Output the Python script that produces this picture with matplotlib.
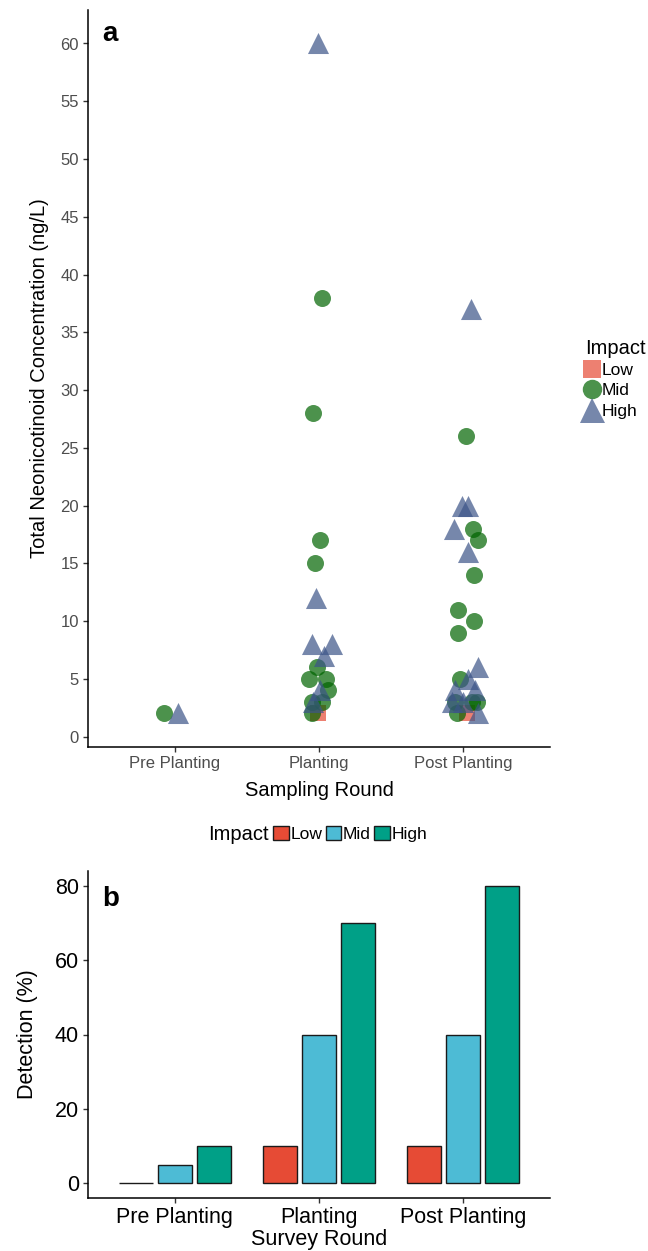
import matplotlib
matplotlib.use("Agg")
import matplotlib.pyplot as plt
from matplotlib.lines import Line2D
from matplotlib.patches import Patch
import numpy as np

plt.rcParams['font.family'] = ['Liberation Sans', 'DejaVu Sans']

# categories
rounds = ["Pre Planting", "Planting", "Post Planting"]
impacts = ["Low", "Mid", "High"]

# panel a: concentrations per impact group (round index, value, horizontal jitter)
low_round = [1, 2]
low_conc = [2, 2]
low_jit = [-0.005, 0.024]

mid_round = [0, 1, 1, 1, 1, 1, 1, 1, 1, 1, 1, 1,
             2, 2, 2, 2, 2, 2, 2, 2, 2, 2, 2, 2]
mid_conc = [2, 38, 28, 17, 15, 6, 5, 5, 4, 3, 3, 2,
            26, 18, 17, 14, 11, 10, 9, 5, 3, 3, 3, 2]
mid_jit = [-0.076, 0.019, -0.044, 0.009, -0.028, -0.016, -0.069, 0.047, 0.065, -0.051, 0.019, -0.051,
           0.017, 0.069, 0.100, 0.076, -0.035, 0.076, -0.035, -0.023, -0.058, 0.058, 0.093, -0.046]

high_round = [0, 1, 1, 1, 1, 1, 1, 1,
              2, 2, 2, 2, 2, 2, 2, 2, 2, 2, 2, 2]
high_conc = [2, 60, 12, 8, 8, 7, 4, 3,
             37, 20, 20, 18, 16, 6, 5, 4, 4, 3, 2, 3]
high_jit = [0.020, -0.005, -0.021, -0.051, 0.088, 0.037, 0.007, -0.040,
            0.050, -0.011, 0.035, -0.063, 0.031, 0.104, 0.035, 0.081, -0.058, 0.0, 0.104, -0.076]

# panel b: detection (%)
det_low = [0, 10, 10]
det_mid = [5, 40, 40]
det_high = [10, 70, 80]

pt_cols = {"Low": "#E64B35", "Mid": "#006400", "High": "#3C5488"}
bar_cols = {"Low": "#E64B35", "Mid": "#4DBBD5", "High": "#00A087"}

W, H = 648, 1251
fig = plt.figure(figsize=(W / 100, H / 100), dpi=100)

def style_axes(ax, labcol, labsize):
    for s in ["top", "right"]:
        ax.spines[s].set_visible(False)
    for s in ["left", "bottom"]:
        ax.spines[s].set_linewidth(1.1)
        ax.spines[s].set_color("black")
    ax.tick_params(axis="both", length=3.5, width=1.0, color="#333333",
                   labelcolor=labcol, labelsize=labsize, pad=3)

# ---- panel a ----
ax1 = fig.add_axes([88 / W, 1 - 747 / H, 462 / W, 737 / H])
ax1.scatter(np.array(low_round) + np.array(low_jit), low_conc, marker="s", s=130,
            color=pt_cols["Low"], alpha=0.7, linewidths=0)
ax1.scatter(np.array(mid_round) + np.array(mid_jit), mid_conc, marker="o", s=150,
            color=pt_cols["Mid"], alpha=0.7, linewidths=0)
ax1.scatter(np.array(high_round) + np.array(high_jit), high_conc, marker="^", s=230,
            color=pt_cols["High"], alpha=0.7, linewidths=0)
ax1.set_xlim(-0.6, 2.6)
ax1.set_ylim(-0.9, 62.9)
ax1.set_xticks(range(3))
ax1.set_xticklabels(rounds)
ax1.set_yticks(range(0, 61, 5))
style_axes(ax1, "#4D4D4D", 12)
ax1.set_xlabel("Sampling Round", fontsize=14.5, labelpad=7)
ax1.set_ylabel("Total Neonicotinoid Concentration (ng/L)", fontsize=14.5, labelpad=8)
ax1.text(0.03, 0.985, "a", transform=ax1.transAxes, fontsize=20, fontweight="bold",
         va="top", ha="left")

handles_a = [Line2D([], [], ls="none", marker="s", ms=13, color=pt_cols["Low"], alpha=0.7, mew=0),
             Line2D([], [], ls="none", marker="o", ms=14, color=pt_cols["Mid"], alpha=0.7, mew=0),
             Line2D([], [], ls="none", marker="^", ms=18, color=pt_cols["High"], alpha=0.7, mew=0)]
fig.legend(handles_a, impacts, title="Impact", loc="upper left",
           bbox_to_anchor=(576 / W, 1 - 330 / H), frameon=False, fontsize=12.5,
           title_fontsize=14.5, handlelength=0.9, handletextpad=0.05,
           labelspacing=0.3, borderpad=0, alignment="left")

# ---- panel b ----
ax2 = fig.add_axes([88 / W, 1 - 1198 / H, 462 / W, 327 / H])
x = np.arange(len(rounds))
bw = 0.235
for off, key, vals in [(-0.27, "Low", det_low), (0.0, "Mid", det_mid), (0.27, "High", det_high)]:
    ax2.bar(x + off, vals, width=bw, color=bar_cols[key], edgecolor="#1a1a1a", linewidth=1.0)
ax2.set_xlim(-0.6, 2.6)
ax2.set_ylim(-4, 84)
ax2.set_xticks(x)
ax2.set_xticklabels(rounds)
ax2.set_yticks([0, 20, 40, 60, 80])
style_axes(ax2, "black", 15.5)
ax2.set_xlabel("Survey Round", fontsize=15.5, labelpad=1)
ax2.set_ylabel("Detection (%)", fontsize=15.5, labelpad=12)
ax2.text(0.03, 0.955, "b", transform=ax2.transAxes, fontsize=20, fontweight="bold",
         va="top", ha="left")

# horizontal legend: title on the left, keys to its right
fig.text(208 / W, 1 - 834 / H, "Impact", fontsize=14.5, ha="left", va="center")
handles_b = [Patch(facecolor=bar_cols[k], edgecolor="#1a1a1a", linewidth=1.0) for k in impacts]
fig.legend(handles_b, impacts, loc="center left",
           bbox_to_anchor=(273 / W, 1 - 834 / H), frameon=False, ncol=3, fontsize=12.5,
           handlelength=0.9, handleheight=0.9, handletextpad=0.1,
           columnspacing=0.2, borderpad=0, borderaxespad=0)

fig.savefig("out.png", dpi=100)
